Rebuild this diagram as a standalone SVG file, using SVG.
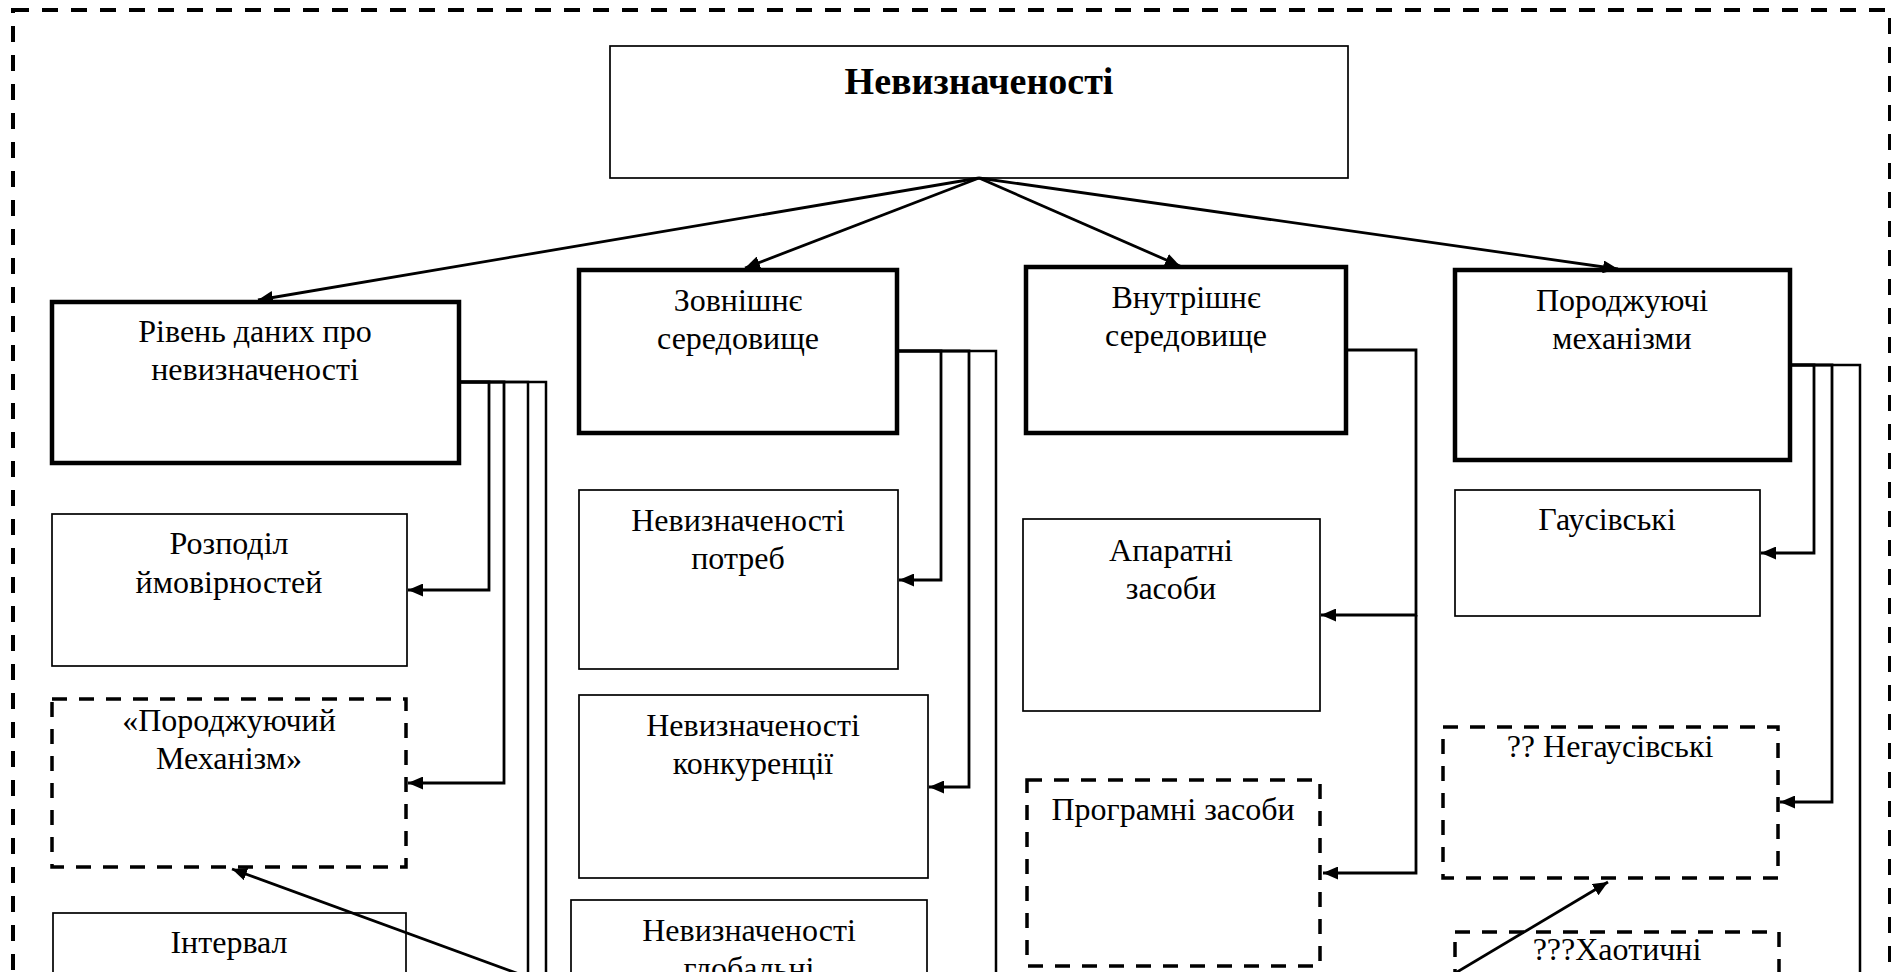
<svg xmlns="http://www.w3.org/2000/svg" width="1891" height="972" viewBox="0 0 1891 972">
<defs>
<marker id="ah" viewBox="0 0 15 13" refX="15" refY="6.5" markerWidth="15" markerHeight="13" markerUnits="userSpaceOnUse" orient="auto">
<path d="M0,0 L15,6.5 L0,13 z" fill="#000"/>
</marker>
<style>
text{font-family:"Liberation Serif","Times New Roman",serif;font-size:32px;fill:#000;text-anchor:middle}
.title{font-size:38px;font-weight:bold}
.thin{fill:#fff;stroke:#000;stroke-width:1.7}
.thick{fill:#fff;stroke:#000;stroke-width:4.5}
.dash{fill:#fff;stroke:#000;stroke-width:3.5;stroke-dasharray:15 12}
.frame{fill:none;stroke:#000;stroke-width:4;stroke-dasharray:16 13}
.c{fill:none;stroke:#000;stroke-width:2.5}
.ca{fill:none;stroke:#000;stroke-width:2.8;marker-end:url(#ah)}
</style>
</defs>
<rect class="frame" x="13" y="10" width="1877" height="1010"/>

<g id="n-root">
<rect class="thin" x="610" y="46" width="738" height="132"/>
<text class="title" x="979" y="94">Невизначеності</text>
</g>

<g id="n-riven">
<rect class="thick" x="52" y="302" width="407" height="161"/>
<text x="255" y="342">Рівень даних про</text>
<text x="255" y="380">невизначеності</text>
</g>
<g id="n-zovn">
<rect class="thick" x="579" y="270" width="318" height="163"/>
<text x="738" y="311">Зовнішнє</text>
<text x="738" y="349">середовище</text>
</g>
<g id="n-vnutr">
<rect class="thick" x="1026" y="267" width="320" height="166"/>
<text x="1186" y="308">Внутрішнє</text>
<text x="1186" y="346">середовище</text>
</g>
<g id="n-porodzh">
<rect class="thick" x="1455" y="270" width="335" height="190"/>
<text x="1622" y="311">Породжуючі</text>
<text x="1622" y="349">механізми</text>
</g>

<g id="n-rozpodil">
<rect class="thin" x="52" y="514" width="355" height="152"/>
<text x="229" y="554">Розподіл</text>
<text x="229" y="593">ймовірностей</text>
</g>
<g id="n-mech">
<rect class="dash" x="52" y="699" width="354" height="168"/>
<text x="229" y="731">«Породжуючий</text>
<text x="229" y="769">Механізм»</text>
</g>
<g id="n-interval">
<rect class="thin" x="53" y="913" width="353" height="90"/>
<text x="229" y="953">Інтервал</text>
</g>

<g id="n-potreb">
<rect class="thin" x="579" y="490" width="319" height="179"/>
<text x="738" y="531">Невизначеності</text>
<text x="738" y="569">потреб</text>
</g>
<g id="n-konk">
<rect class="thin" x="579" y="695" width="349" height="183"/>
<text x="753" y="736">Невизначеності</text>
<text x="753" y="774">конкуренції</text>
</g>
<g id="n-glob">
<rect class="thin" x="571" y="900" width="356" height="100"/>
<text x="749" y="941">Невизначеності</text>
<text x="749" y="979">глобальні</text>
</g>

<g id="n-aparat">
<rect class="thin" x="1023" y="519" width="297" height="192"/>
<text x="1171" y="561">Апаратні</text>
<text x="1171" y="599">засоби</text>
</g>
<g id="n-program">
<rect class="dash" x="1027" y="780" width="293" height="186"/>
<text x="1173" y="820">Програмні засоби</text>
</g>

<g id="n-gaus">
<rect class="thin" x="1455" y="490" width="305" height="126"/>
<text x="1607" y="530">Гаусівські</text>
</g>
<g id="n-negaus">
<rect class="dash" x="1443" y="727" width="335" height="151"/>
<text x="1610" y="757">?? Негаусівські</text>
</g>
<g id="n-chaos">
<rect class="dash" x="1455" y="932" width="324" height="80"/>
<text x="1617" y="960">???Хаотичні</text>
</g>

<g id="connectors">
<path class="ca" d="M979,178 L258,300"/>
<path class="ca" d="M979,178 L745,268"/>
<path class="ca" d="M979,178 L1180,266"/>
<path class="ca" d="M979,178 L1618,269"/>

<path class="ca" d="M459,382 H489 V590 H408"/>
<path class="ca" d="M459,382 H504 V783 H408"/>
<path class="c" d="M459,382 H528 V985"/>
<path class="c" d="M459,382 H546 V985"/>
<path class="ca" d="M530,978 L232,869"/>

<path class="ca" d="M897,351 H941 V580 H899"/>
<path class="ca" d="M897,351 H969 V787 H929"/>
<path class="c" d="M897,351 H996 V985"/>

<path class="ca" d="M1346,350 H1416 V615 H1321"/>
<path class="ca" d="M1416,615 V873 H1323"/>

<path class="ca" d="M1790,365 H1814 V553 H1761"/>
<path class="ca" d="M1790,365 H1832 V802 H1780"/>
<path class="c" d="M1790,365 H1860 V985"/>
<path class="ca" d="M1447,978 L1608,882"/>
</g>
</svg>
